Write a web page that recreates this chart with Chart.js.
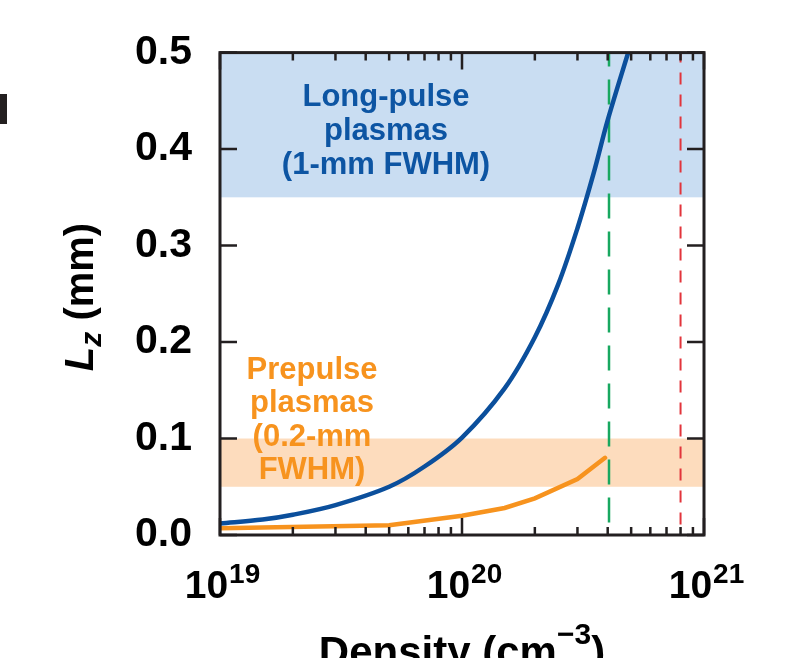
<!DOCTYPE html>
<html>
<head>
<meta charset="utf-8">
<script src="https://cdn.jsdelivr.net/npm/chart.js@4.4.1/dist/chart.umd.min.js"></script>
<style>
  html, body { margin: 0; padding: 0; background: #fff; }
  canvas { display: block; }
</style>
</head>
<body>
<canvas id="myChart" width="808" height="658"></canvas>
<script>
// density values (cm^-3) and scale length Lz (mm)
const longDensity = [1e19, 1.5e19, 2e19, 3e19, 5e19, 7e19, 1e20, 1.5e20, 2e20, 2.5e20, 3e20, 3.5e20, 4e20, 5e20];
const longLz      = [0.012, 0.016, 0.021, 0.031, 0.05, 0.071, 0.101, 0.152, 0.205, 0.26, 0.318, 0.375, 0.43, 0.51];

const preDensity = [1e19, 5e19, 1e20, 1.5e20, 2e20, 3e20, 3.9e20];
const preLz      = [0.007, 0.01, 0.02, 0.028, 0.038, 0.058, 0.08];

const greenLineX = 4.05e20;
const redLineX = 8e20;

const longBand = [0.35, 0.5];
const preBand = [0.05, 0.1];

const xMajor = [1e19, 1e20, 1e21];
const xMajorExp = ['19', '20', '21'];
const xMinorMult = [2, 3, 4, 5, 6, 7, 8, 9];
const yTicks = [0, 0.1, 0.2, 0.3, 0.4, 0.5];

const longLabel = ['Long-pulse', 'plasmas', '(1-mm FWHM)'];
const preLabel = ['Prepulse', 'plasmas', '(0.2-mm', 'FWHM)'];

const BLUE = '#0b4f9c';
const ORANGE = '#f7931e';
const INK = '#231f20';
const FONT = '"Liberation Sans", Arial, Helvetica, sans-serif';

function pts(xs, ys) {
    return xs.map((x, i) => ({ x: x, y: ys[i] }));
}

const decor = {
    id: 'decor',
    beforeDatasetsDraw(chart) {
        const c = chart.ctx;
        const a = chart.chartArea;
        const y = chart.scales.y;
        c.save();
        // shaded bands
        c.fillStyle = '#c9ddf2';
        c.fillRect(a.left, y.getPixelForValue(longBand[1]), a.right - a.left,
            y.getPixelForValue(longBand[0]) - y.getPixelForValue(longBand[1]));
        c.fillStyle = '#fddcbd';
        c.fillRect(a.left, y.getPixelForValue(preBand[1]), a.right - a.left,
            y.getPixelForValue(preBand[0]) - y.getPixelForValue(preBand[1]));

        // annotations
        c.textAlign = 'center';
        c.textBaseline = 'alphabetic';
        c.font = 'bold 31px ' + FONT;
        c.fillStyle = '#0d55a3';
        longLabel.forEach((t, i) => c.fillText(t, 386, 106 + i * 34));
        c.fillStyle = ORANGE;
        preLabel.forEach((t, i) => c.fillText(t, 312, 379 + i * 33.3));
        c.restore();
    },
    afterDraw(chart) {
        const c = chart.ctx;
        const a = chart.chartArea;
        const x = chart.scales.x, y = chart.scales.y;
        c.save();
        c.strokeStyle = INK;
        c.lineWidth = 3;
        c.strokeRect(a.left, a.top, a.right - a.left, a.bottom - a.top);

        // inward ticks
        c.lineWidth = 2.5;
        c.beginPath();
        yTicks.forEach(v => {
            const py = y.getPixelForValue(v);
            c.moveTo(a.left, py); c.lineTo(a.left + 17, py);
            c.moveTo(a.right, py); c.lineTo(a.right - 17, py);
        });
        xMajor.forEach(v => {
            const px = x.getPixelForValue(v);
            c.moveTo(px, a.bottom); c.lineTo(px, a.bottom - 17);
            c.moveTo(px, a.top); c.lineTo(px, a.top + 17);
        });
        xMajor.slice(0, -1).forEach(d => {
            xMinorMult.forEach(m => {
                const px = x.getPixelForValue(d * m);
                c.moveTo(px, a.bottom); c.lineTo(px, a.bottom - 8);
                c.moveTo(px, a.top); c.lineTo(px, a.top + 8);
            });
        });
        c.stroke();

        // x tick labels with superscripts
        c.fillStyle = '#000';
        c.textBaseline = 'alphabetic';
        c.textAlign = 'left';
        xMajor.forEach((v, i) => {
            const px = x.getPixelForValue(v);
            c.font = 'bold 39px ' + FONT;
            const wb = c.measureText('10').width;
            c.font = 'bold 28px ' + FONT;
            const ws = c.measureText(xMajorExp[i]).width;
            const start = px - (wb + ws) / 2 + 2;
            c.font = 'bold 39px ' + FONT;
            c.fillText('10', start, 598);
            c.font = 'bold 28px ' + FONT;
            c.fillText(xMajorExp[i], start + wb + 1, 583);
        });

        // x axis title
        const parts = [['Density (cm', 'bold 42px ', 666], ['\u22123', 'bold 30px ', 644], [')', 'bold 42px ', 666]];
        let total = 0;
        parts.forEach(p => { c.font = p[1] + FONT; total += c.measureText(p[0]).width; });
        let cx = (a.left + a.right) / 2 - total / 2;
        parts.forEach(p => {
            c.font = p[1] + FONT;
            c.fillText(p[0], cx, p[2]);
            cx += c.measureText(p[0]).width;
        });

        // y axis title (rotated)
        c.translate(93, 297);
        c.rotate(-Math.PI / 2);
        const yparts = [['L', 'italic bold 40px ', 0], ['z', 'italic bold 30px ', 8], [' (mm)', 'bold 40px ', 0]];
        let yt = 0;
        yparts.forEach(p => { c.font = p[1] + FONT; yt += c.measureText(p[0]).width; });
        let yx = -yt / 2;
        yparts.forEach(p => {
            c.font = p[1] + FONT;
            c.fillText(p[0], yx, p[2]);
            yx += c.measureText(p[0]).width;
        });
        c.restore();

        // clipped panel letter at far left
        c.save();
        c.fillStyle = INK;
        c.fillRect(0, 94, 7, 30);
        c.restore();
    }
};

const ctx = document.getElementById('myChart').getContext('2d');

const myChart = new Chart(ctx, {
    type: 'line',
    data: {
        datasets: [
            {
                label: 'Long-pulse',
                data: pts(longDensity, longLz),
                borderColor: BLUE,
                borderWidth: 4.5,
                pointRadius: 0,
                tension: 0.35
            },
            {
                label: 'Prepulse',
                data: pts(preDensity, preLz),
                borderColor: ORANGE,
                borderWidth: 4.5,
                pointRadius: 0,
                tension: 0,
                borderCapStyle: 'round'
            },
            {
                label: 'green',
                data: [{ x: greenLineX, y: 0.5 }, { x: greenLineX, y: 0 }],
                borderColor: '#18a860',
                borderWidth: 2.5,
                borderDash: [25, 13],
                borderDashOffset: 11,
                pointRadius: 0
            },
            {
                label: 'red',
                data: [{ x: redLineX, y: 0.5 }, { x: redLineX, y: 0 }],
                borderColor: '#e2343b',
                borderWidth: 2,
                borderDash: [12, 10],
                borderDashOffset: 2,
                pointRadius: 0
            }
        ]
    },
    options: {
        responsive: false,
        animation: false,
        layout: { padding: { left: 0, right: 104, top: 52, bottom: 123 } },
        plugins: {
            legend: { display: false },
            tooltip: { enabled: false }
        },
        scales: {
            x: {
                type: 'logarithmic',
                min: 1e19,
                max: 1e21,
                display: false
            },
            y: {
                min: 0,
                max: 0.5,
                grid: { display: false, drawTicks: false },
                border: { display: false },
                afterFit: s => { s.width = 220; },
                afterBuildTicks: s => { s.ticks = yTicks.map(v => ({ value: v })); },
                ticks: {
                    padding: 28,
                    color: '#000',
                    font: { family: FONT, size: 41, weight: 'bold' },
                    callback: v => v.toFixed(1)
                }
            }
        }
    },
    plugins: [decor]
});
</script>
</body>
</html>
